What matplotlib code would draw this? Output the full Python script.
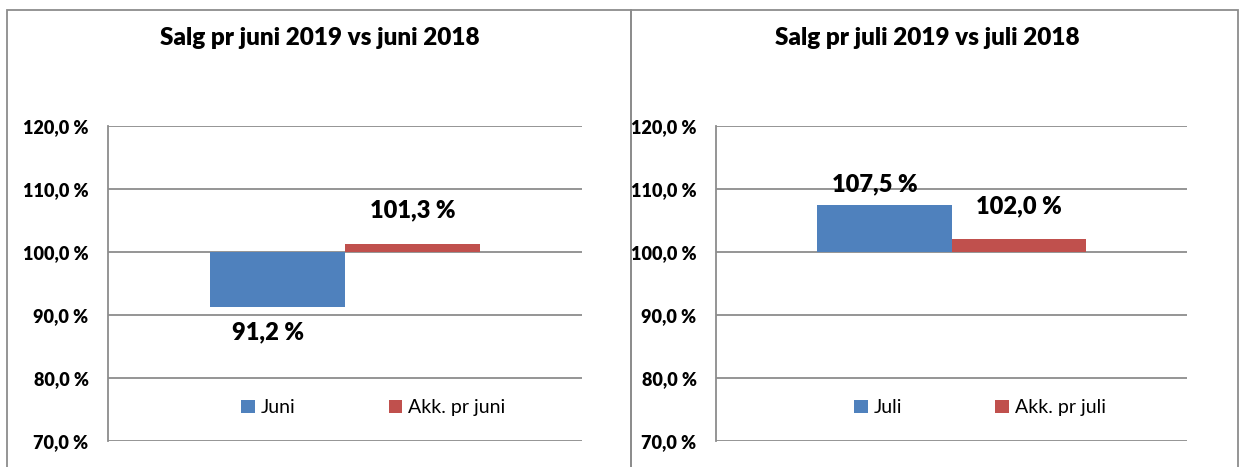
import matplotlib.pyplot as plt
from matplotlib.patches import Rectangle
from matplotlib.ticker import FuncFormatter

plt.rcParams['font.family'] = ['Lato', 'DejaVu Sans']

# Data
titles = ['Salg pr juni 2019 vs juni 2018', 'Salg pr juli 2019 vs juli 2018']
series_names = [['Juni', 'Akk. pr juni'], ['Juli', 'Akk. pr juli']]
values = [[91.2, 101.3], [107.5, 102.0]]
yticks = [70, 80, 90, 100, 110, 120]
colors = ['#4F81BD', '#C0504D']
base = 100

W, H = 1243, 467
fig = plt.figure(figsize=(W / 100, H / 100), dpi=100)

# panel frames (like chart borders in the spreadsheet)
for x0, x1 in [(7, 631), (631, 1238)]:
    fig.patches.append(Rectangle((x0 / W, -0.1), (x1 - x0) / W, 1.1 - 10 / H,
                                 transform=fig.transFigure, fill=False,
                                 edgecolor='#8c8c8c', linewidth=1.3, zorder=0))

axes_pos = [(108, 582), (716, 1187)]
title_x = [320, 927]
# label offsets in points (x, y) for each bar
lbl_off = [[(-7, -10), (0, 19)], [(-7, 10), (0, 19)]]
fmt = FuncFormatter(lambda v, p: f'{v:.1f}'.replace('.', ',') + ' %')

width = 1 / 3.5
for i in range(2):
    l, r = axes_pos[i]
    ax = fig.add_axes([l / W, 1 - 441 / H, (r - l) / W, (441 - 126) / H])
    offsets = [-width / 2, width / 2]
    for j in range(2):
        v = values[i][j]
        ax.bar(offsets[j], v - base, width=width, bottom=base, color=colors[j],
               label=series_names[i][j], zorder=3)
        lbl = f'{v:.1f}'.replace('.', ',') + ' %'
        ax.annotate(lbl, (offsets[j], v), xytext=lbl_off[i][j],
                    textcoords='offset points', ha='center',
                    va='top' if v < base else 'baseline',
                    fontsize=17, fontweight='heavy')
    ax.set_xlim(-0.5, 0.5)
    ax.set_ylim(70, 120)
    ax.set_yticks(yticks)
    ax.yaxis.set_major_formatter(fmt)
    ax.set_xticks([])
    ax.tick_params(axis='y', length=0, pad=14, labelsize=13)
    for t in ax.get_yticklabels():
        t.set_fontweight('heavy')
    ax.grid(axis='y', color='#8c8c8c', linewidth=1.3, zorder=0)
    for s in ['top', 'right', 'bottom']:
        ax.spines[s].set_visible(False)
    ax.spines['left'].set_color('#8c8c8c')
    ax.spines['left'].set_linewidth(1.3)
    ax.legend(loc='center', bbox_to_anchor=(0.56, 0.105), ncol=2, frameon=False,
              fontsize=14, handlelength=0.7, handleheight=0.7,
              handletextpad=0.3, columnspacing=4.8)
    fig.text(title_x[i] / W, 1 - 38 / H, titles[i], ha='center', va='center',
             fontsize=17.5, fontweight='heavy')

fig.savefig('out.png', dpi=100)
